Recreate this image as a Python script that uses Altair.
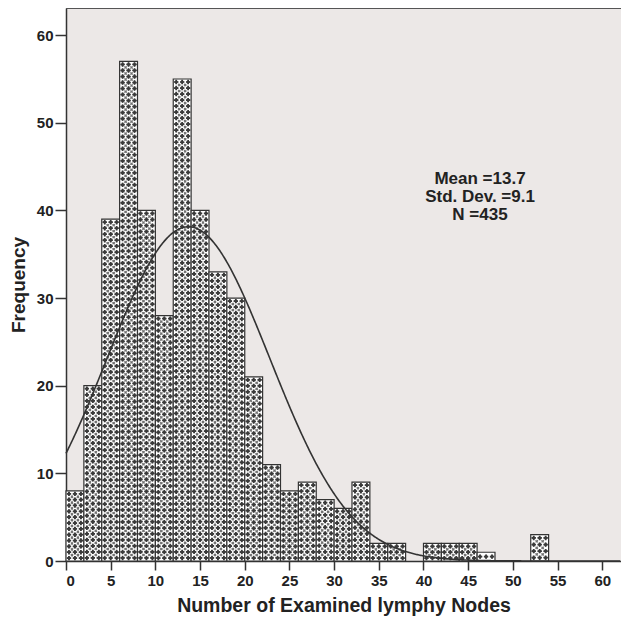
import altair as alt
import pandas as pd

# ---- data ----
bin_start = [0, 2, 4, 6, 8, 10, 12, 14, 16, 18, 20, 22, 24, 26, 28, 30, 32, 34, 36, 38, 40, 42, 44, 46, 48, 50, 52]
counts = [8, 20, 39, 57, 40, 28, 55, 40, 33, 30, 21, 11, 8, 9, 7, 6, 9, 2, 2, 0, 2, 2, 2, 1, 0, 0, 3]
bin_width = 2
mean_v, sd_v, n_v = 13.7, 9.1, 435
stats_lines = ["Mean =13.7", "Std. Dev. =9.1", "N =435"]
x_ticks = [0, 5, 10, 15, 20, 25, 30, 35, 40, 45, 50, 55, 60]
y_ticks = [0, 10, 20, 30, 40, 50, 60]
x_title = "Number of Examined lymphy Nodes"
y_title = "Frequency"
x_max = 62.1
y_max = 63.1

FONT = "Liberation Sans"
INK = "#333333"

bars_df = pd.DataFrame({
    "start": bin_start,
    "end": [s + bin_width for s in bin_start],
    "count": counts,
})

xs = alt.Scale(domain=[0, x_max], nice=False, zero=False)
ys = alt.Scale(domain=[0, y_max], nice=False)

x_axis = alt.Axis(values=x_ticks, format="d", tickSize=9, tickWidth=1.5,
                  tickColor=INK, domainColor=INK, domainWidth=1.5,
                  labelFont=FONT, labelFontSize=15, labelFontWeight="bold",
                  labelColor="#222", labelPadding=3, grid=False,
                  titleFont=FONT, titleFontSize=19.5, titleFontWeight="bold",
                  titleColor="#222", titlePadding=8)
y_axis = alt.Axis(values=y_ticks, format="d", tickSize=11, tickWidth=1.5,
                  tickColor=INK, domainColor=INK, domainWidth=1.5,
                  labelFont=FONT, labelFontSize=15, labelFontWeight="bold",
                  labelColor="#222", labelPadding=2, grid=False,
                  titleFont=FONT, titleFontSize=19, titleFontWeight="bold",
                  titleColor="#222", titlePadding=8)


def X(field):
    return alt.X(field, scale=xs, axis=x_axis, title=x_title)


def Y(field):
    return alt.Y(field, scale=ys, axis=y_axis, title=y_title)


base = alt.Chart(bars_df).transform_filter("datum.count > 0").transform_calculate(
    nr="max(1, round(datum.count / 0.684))"
).transform_calculate(
    st="datum.count / datum.nr"
)

bars = base.transform_calculate(zero="0").mark_rect(
    fill="white", stroke=INK, strokeWidth=1.2
).encode(
    x=X("start:Q"),
    x2="end:Q",
    y=Y("count:Q"),
    y2="zero:Q",
)

grid = base.transform_calculate(
    ry="sequence(datum.st / 2, datum.count - datum.st / 4, datum.st)",
    cx="[0.333, 1.0, 1.667]",
).transform_flatten(["ry"]).transform_flatten(["cx"]).transform_calculate(
    px="datum.start + datum.cx"
)

diam_pat = grid.mark_point(shape="diamond", filled=True, size=17, color="#3a3a3a",
                           opacity=1, strokeWidth=0).encode(x=X("px:Q"), y=Y("ry:Q"))
plus_pat = grid.mark_point(shape="cross", filled=True, size=19, color="#3a3a3a",
                           opacity=1, strokeWidth=0).encode(x=X("px:Q"), y=Y("ry:Q"))

x_pat = base.transform_calculate(
    ry="sequence(datum.st, datum.count - datum.st / 2, datum.st)",
    cx="[0.667, 1.333]",
).transform_flatten(["ry"]).transform_flatten(["cx"]).transform_calculate(
    px="datum.start + datum.cx"
).mark_point(shape="cross", filled=True, size=10, angle=45, color="#707070",
             opacity=1, strokeWidth=0).encode(x=X("px:Q"), y=Y("ry:Q"))

curve = alt.Chart(alt.sequence(0, x_max, 0.1, as_="xv")).transform_calculate(
    yv=f"{n_v} * {bin_width} / ({sd_v} * sqrt(2 * PI)) * exp(-0.5 * pow((datum.xv - {mean_v}) / {sd_v}, 2))"
).mark_line(color=INK, strokeWidth=1.6).encode(
    x=X("xv:Q"),
    y=Y("yv:Q"),
)

stats = alt.Chart(pd.DataFrame({"t": [0]})).mark_text(
    font=FONT, fontSize=17, fontWeight="bold", color="#222",
    align="center", baseline="middle", lineHeight=18,
).encode(
    x=alt.value(414),
    y=alt.value(171),
    text=alt.value(stats_lines),
)

top_rule = alt.Chart(pd.DataFrame({"t": [0]})).mark_rule(
    color="#555555", strokeWidth=1.8
).encode(y=alt.value(0))

chart = alt.layer(bars, diam_pat, plus_pat, x_pat, curve, stats, top_rule).properties(
    width=555, height=553,
    autosize=alt.AutoSizeParams(type="none"),
    padding={"left": 58, "top": 0, "right": 0, "bottom": 59},
    background="white",
).configure_view(
    stroke=None, fill="#ece8e7"
)

chart.save("out.html", embed_options={"renderer": "svg", "actions": False})
